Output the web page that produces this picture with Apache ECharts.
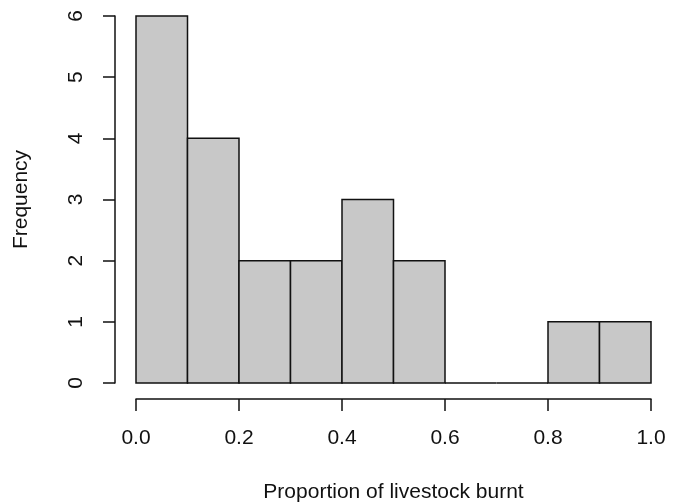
<!DOCTYPE html>
<html>
<head>
<meta charset="utf-8">
<script src="https://cdn.jsdelivr.net/npm/echarts@6/dist/echarts.min.js"></script>
<style>
  html, body { margin: 0; padding: 0; background: #fff; }
  #main { width: 680px; height: 503px; }
</style>
</head>
<body>
<div id="main"></div>
<script>
// histogram bins (left edge, right edge) and counts
const breaks = [0, 0.1, 0.2, 0.3, 0.4, 0.5, 0.6, 0.7, 0.8, 0.9, 1.0];
const counts = [6, 4, 2, 2, 3, 2, 0, 0, 1, 1];
const xTicks = [0, 0.2, 0.4, 0.6, 0.8, 1.0];
const yTicks = [0, 1, 2, 3, 4, 5, 6];

let bins = counts.map((c, i) => [breaks[i], breaks[i + 1], c]);

let chart = echarts.init(document.getElementById('main'));
const font = '"Liberation Sans", Arial, sans-serif';

let option = {
    animation: false,
    grid: { left: 136, right: 29, top: 16, bottom: 120, outerBoundsMode: 'none' },
    xAxis: {
        type: 'value',
        min: xTicks[0], max: xTicks[xTicks.length - 1], interval: 0.2,
        offset: 16,
        name: 'Proportion of livestock burnt',
        nameLocation: 'middle',
        nameGap: 83,
        nameTextStyle: { fontFamily: font, fontSize: 21, color: '#111' },
        axisLine: { show: true, onZero: false, lineStyle: { color: '#111', width: 1.5 } },
        axisTick: { show: true, length: 12, lineStyle: { color: '#111', width: 1.5 } },
        axisLabel: {
            fontFamily: font, fontSize: 21, color: '#111', margin: 29,
            formatter: v => v.toFixed(1)
        },
        splitLine: { show: false }
    },
    yAxis: {
        type: 'value',
        min: yTicks[0], max: yTicks[yTicks.length - 1], interval: 1,
        offset: 21,
        name: 'Frequency',
        nameLocation: 'middle',
        nameGap: 83,
        nameRotate: 90,
        nameTextStyle: { fontFamily: font, fontSize: 21, color: '#111' },
        axisLine: { show: true, onZero: false, lineStyle: { color: '#111', width: 1.5 } },
        axisTick: { show: true, length: 12, lineStyle: { color: '#111', width: 1.5 } },
        axisLabel: {
            fontFamily: font, fontSize: 21, color: '#111', margin: 28,
            rotate: 90
        },
        splitLine: { show: false }
    },
    series: [{
        type: 'custom',
        data: bins,
        encode: { x: [0, 1], y: 2 },
        renderItem: function (params, api) {
            let p0 = api.coord([api.value(0), 0]);
            let p1 = api.coord([api.value(1), api.value(2)]);
            return {
                type: 'rect',
                shape: { x: p0[0], y: p1[1], width: p1[0] - p0[0], height: p0[1] - p1[1] },
                style: { fill: '#c8c8c8', stroke: '#111', lineWidth: 1.5 }
            };
        }
    }]
};

chart.setOption(option);
</script>
</body>
</html>
